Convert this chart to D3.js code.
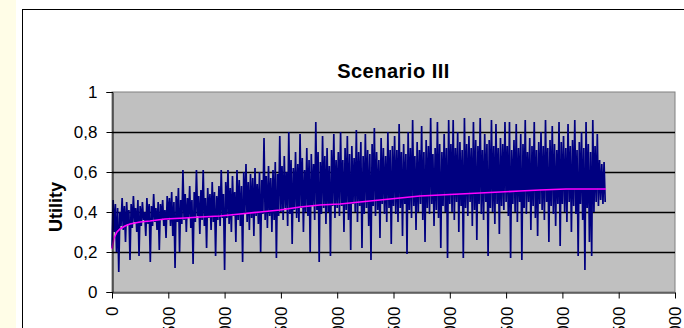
<!DOCTYPE html>
<html>
<head>
<meta charset="utf-8">
<script src="https://d3js.org/d3.v7.min.js"></script>
<style>
  html, body { margin: 0; padding: 0; background: #fff; overflow: hidden; }
  svg { display: block; font-family: "Liberation Sans", Arial, sans-serif; }
</style>
</head>
<body>
<svg id="chart" width="684" height="328"></svg>
<script>
var TITLE = 'Scenario III',
	Y_TITLE = 'Utility'

var xTicks = [0, 500, 1000, 1500, 2000, 2500, 3000, 3500, 4000, 4500, 5000]
var yTicks = [0, 0.2, 0.4, 0.6, 0.8, 1]
var yTickLabels = ['0', '0,2', '0,4', '0,6', '0,8', '1']

// one utility sample every SAMPLE_STEP runs
var SAMPLE_STEP = 10
var util0 = [.22,.46,.30,.44,.20,.42,.10,.40,.33,.47,.31,.43,.25,.45,.34,.41,.16,.44,.32,.48,.35,.42,.30,.46,.18,.43,.33,.45,.36,.40,.28,.47,.34,.44,.15,.43,.33,.49,.35,.42,.31,.45,.21,.44,.36,.46,.33,.41,.27,.48]
var util1 = [.36,.47,.33,.50,.28,.45,.12,.48,.35,.52,.20,.46,.34,.61,.36,.49,.30,.47,.37,.53,.32,.46,.14,.50,.35,.61,.38,.48,.29,.51,.36,.61,.33,.47,.22,.52,.37,.49,.31,.55,.35,.50,.18,.48,.36,.53,.33,.61,.37,.49]
var util2 = [.11,.55,.37,.61,.34,.52,.30,.58,.38,.50,.25,.61,.36,.56,.33,.53,.15,.60,.39,.64,.35,.55,.31,.59,.37,.57,.28,.62,.38,.54,.34,.60,.20,.56,.39,.77,.36,.58,.32,.63,.38,.57,.30,.61,.36,.65,.17,.59,.38,.78]
var util3 = [.40,.63,.36,.68,.42,.60,.33,.80,.39,.66,.24,.62,.41,.70,.37,.64,.35,.79,.42,.67,.30,.61,.40,.72,.38,.66,.20,.69,.43,.64,.36,.85,.41,.70,.15,.65,.39,.78,.42,.68,.34,.72,.40,.63,.18,.71,.43,.79,.37,.66]
var util4 = [.42,.70,.38,.80,.43,.66,.30,.72,.41,.78,.36,.69,.21,.73,.44,.67,.40,.81,.35,.70,.43,.75,.22,.68,.39,.79,.42,.71,.33,.69,.16,.74,.43,.82,.38,.70,.41,.66,.27,.77,.44,.72,.39,.68,.35,.80,.42,.71,.24,.73]
var util5 = [.43,.78,.39,.71,.35,.84,.42,.70,.28,.74,.44,.69,.19,.80,.41,.72,.37,.86,.43,.68,.31,.75,.40,.71,.44,.83,.36,.70,.25,.76,.42,.73,.39,.87,.44,.69,.33,.72,.41,.85,.37,.74,.22,.70,.43,.79,.40,.72,.17,.86]
var util6 = [.44,.74,.40,.86,.36,.72,.45,.80,.30,.75,.43,.71,.17,.87,.42,.74,.38,.78,.45,.72,.33,.85,.41,.76,.26,.73,.44,.87,.39,.71,.36,.79,.45,.74,.18,.76,.42,.86,.40,.73,.34,.84,.44,.72,.29,.77,.43,.74,.41,.85]
var util7 = [.45,.73,.38,.85,.17,.71,.44,.76,.40,.84,.35,.72,.45,.79,.16,.74,.42,.86,.39,.70,.45,.77,.31,.73,.43,.85,.37,.71,.28,.75,.44,.80,.41,.73,.36,.86,.45,.72,.25,.76,.43,.83,.39,.74,.33,.71,.44,.85,.23,.75]
var util8 = [.44,.78,.40,.72,.35,.84,.45,.73,.30,.76,.43,.86,.39,.71,.18,.75,.44,.80,.36,.72,.11,.85,.42,.74,.25,.70,.18,.86,.40,.73,.45,.79,.43,.66,.46,.64,.44,.65,.45]

// running average (magenta)
var avgX = [0, 18, 44, 71, 115, 160, 249, 337, 470, 648, 781, 959, 1137, 1314, 1492, 1670, 1847, 2025, 2202, 2380, 2558, 2735, 2913, 3090, 3268, 3446, 3623, 3801, 4032, 4387]
var avgY = [.215, .27, .30, .315, .33, .34, .35, .355, .365, .37, .375, .38, .39, .40, .41, .425, .435, .44, .45, .46, .47, .48, .485, .49, .495, .50, .505, .51, .515, .515]

var BLUE = '#000080',
	MAGENTA = '#ff00ff',
	PLOT_BG = '#c0c0c0',
	TEXT_COLOR = '#000'

var svg = d3.select('#chart')

var plot = {left: 112, right: 675, top: 92, bottom: 292}

var x = d3.scaleLinear().domain([0, 5000]).range([plot.left, plot.right])
var y = d3.scaleLinear().domain([0, 1]).range([plot.bottom, plot.top])

// page background + chart frame
svg.append('rect').attr('x', 0).attr('y', 0).attr('width', 684).attr('height', 328).attr('fill', '#fff')
svg.append('rect').attr('x', 0).attr('y', 0).attr('width', 16).attr('height', 328).attr('fill', '#fffde7')
svg.append('rect')
	.attr('x', 22.5).attr('y', 9.5)
	.attr('width', 700).attr('height', 400)
	.attr('fill', '#fff')
	.attr('stroke', '#000')
	.attr('stroke-width', 1)

svg.append('text')
	.attr('x', (plot.left + plot.right) / 2)
	.attr('y', 78)
	.attr('text-anchor', 'middle')
	.attr('font-size', 20)
	.attr('letter-spacing', 0.5)
	.attr('font-weight', 'bold')
	.attr('fill', TEXT_COLOR)
	.text(TITLE)

svg.append('rect')
	.attr('x', plot.left).attr('y', plot.top)
	.attr('width', plot.right - plot.left).attr('height', plot.bottom - plot.top)
	.attr('fill', PLOT_BG)
	.attr('stroke', '#808080')
	.attr('stroke-width', 1)

svg.append('g')
	.attr('class', 'grid')
	.selectAll('line')
	.data(yTicks.filter(function(d){ return d > 0 && d < 1 }))
	.enter().append('line')
		.attr('x1', plot.left).attr('x2', plot.right)
		.attr('y1', function(d){ return Math.round(y(d)) + 0.5 })
		.attr('y2', function(d){ return Math.round(y(d)) + 0.5 })
		.attr('stroke', '#000')
		.attr('stroke-width', 1.4)

var utility = [].concat(util0, util1, util2, util3, util4, util5, util6, util7, util8)

var blueLine = d3.line()
	.x(function(d, i){ return x(i * SAMPLE_STEP) })
	.y(function(d){ return y(d) })

svg.append('path')
	.datum(utility)
	.attr('d', blueLine)
	.attr('fill', 'none')
	.attr('stroke', BLUE)
	.attr('stroke-width', 1.7)
	.attr('stroke-linejoin', 'bevel')

var avgLine = d3.line()
	.x(function(d, i){ return x(avgX[i]) })
	.y(function(d){ return y(d) })

svg.append('path')
	.datum(avgY)
	.attr('d', avgLine)
	.attr('fill', 'none')
	.attr('stroke', MAGENTA)
	.attr('stroke-width', 1.6)

var yAxis = d3.axisLeft(y)
	.tickValues(yTicks)
	.tickFormat(function(d, i){ return yTickLabels[i] })
	.tickSize(6)
	.tickPadding(9)

var gy = svg.append('g')
	.attr('transform', 'translate(' + (plot.left + 0.5) + ',0)')
	.call(yAxis)
gy.selectAll('text').attr('font-size', 17).attr('font-family', null).attr('fill', TEXT_COLOR)
gy.selectAll('line, path').attr('stroke', '#000')

var xAxis = d3.axisBottom(x)
	.tickValues(xTicks)
	.tickFormat(d3.format('d'))
	.tickSize(6)
	.tickSizeOuter(0)

var gx = svg.append('g')
	.attr('transform', 'translate(0,' + (plot.bottom + 0.5) + ')')
	.call(xAxis)
gx.selectAll('line, path').attr('stroke', '#000')
gx.selectAll('text')
	.attr('font-size', 17)
	.attr('font-family', null)
	.attr('fill', TEXT_COLOR)
	.attr('text-anchor', 'end')
	.attr('dy', '0.35em')
	.attr('transform', 'translate(0,' + 14 + ') rotate(-90)')
	.attr('x', 0)
	.attr('y', 0)

svg.append('text')
	.attr('transform', 'translate(62,' + 207 + ') rotate(-90)')
	.attr('text-anchor', 'middle')
	.attr('font-size', 18)
	.attr('font-weight', 'bold')
	.attr('fill', TEXT_COLOR)
	.text(Y_TITLE)
</script>
</body>
</html>
